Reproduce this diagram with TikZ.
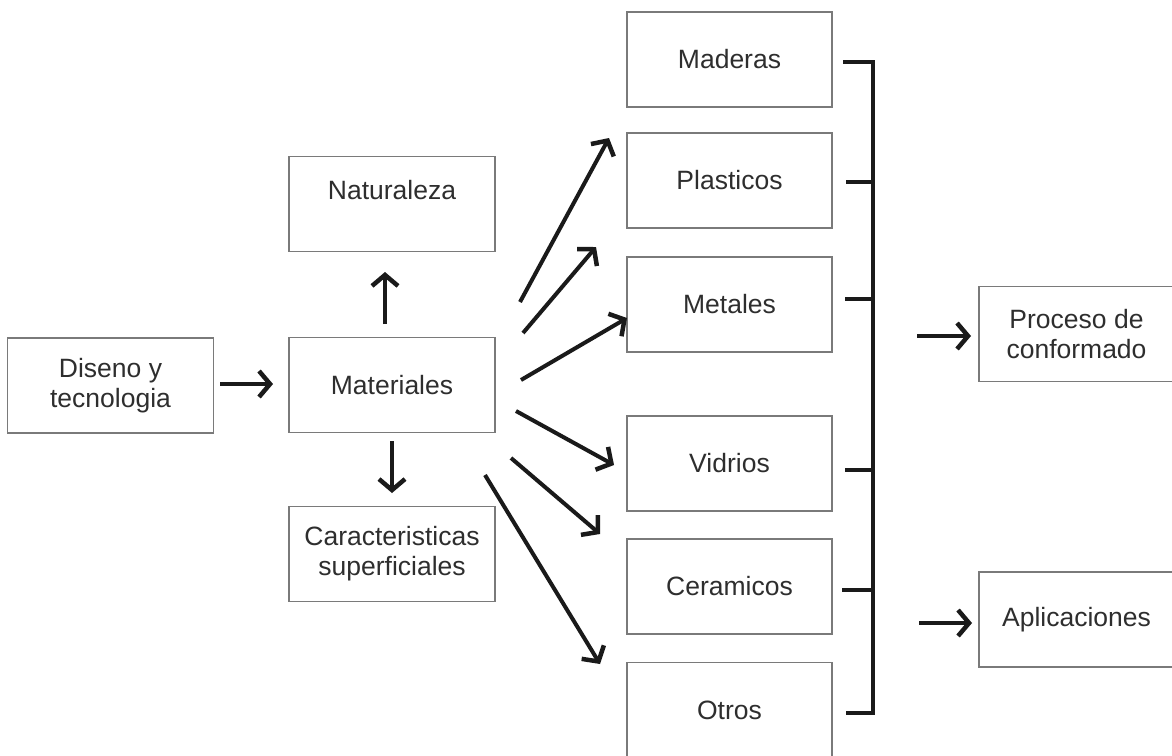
\documentclass[tikz,border=0pt]{standalone}
\usepackage{fontspec}
\setmainfont{Liberation Sans}
\usetikzlibrary{arrows.meta}
\definecolor{boxgray}{HTML}{7A7A7A}
\definecolor{txt}{HTML}{2E2E2E}
\definecolor{ink}{HTML}{1A1A1A}
\begin{document}
\begin{tikzpicture}[x=1pt,y=-1pt,
  box/.style={draw=boxgray,line width=1.5pt,minimum width=206pt,minimum height=95pt,
    inner sep=0pt,align=center,text=txt,font=\fontsize{26.5}{30}\selectfont},
  arr/.style={draw=ink,line width=4pt,-{Straight Barb[length=11pt,width=26pt,line width=4.5pt]}},
  brk/.style={draw=ink,line width=4pt}]
\useasboundingbox (0,0) rectangle (1172,755);
\clip (0,0) rectangle (1172,755);
% boxes
\node[box] (dis) at (110.5,385.5) {Diseno y\\tecnologia};
\node[box] (mat) at (392,385) {Materiales};
\node[box] (nat) at (392,204) {\raisebox{28pt}{Naturaleza}};
\node[box] (car) at (392,554) {Caracteristicas\\superficiales};
\node[box,minimum width=205pt] (mad) at (729.5,59.5) {Maderas};
\node[box,minimum width=205pt] (pla) at (729.5,180.5) {Plasticos};
\node[box,minimum width=205pt] (met) at (729.5,304.5) {Metales};
\node[box,minimum width=205pt] (vid) at (729.5,463.5) {Vidrios};
\node[box,minimum width=205pt] (cer) at (729.5,586.5) {Ceramicos};
\node[box,minimum width=205pt] (otr) at (729.5,710) {Otros};
\node[box,minimum width=195pt] (pro) at (1076.5,334) {Proceso de\\conformado};
\node[box,minimum width=195pt] (apl) at (1076.5,619.5) {Aplicaciones};
% arrow endpoints
\coordinate (a0s) at (220,384); \coordinate (a0e) at (273,384);
\coordinate (nuS) at (385,324); \coordinate (nuE) at (385,272);
\coordinate (ndS) at (392,441); \coordinate (ndE) at (392,493);
\coordinate (d1s) at (520,302); \coordinate (d1e) at (609,138);
\coordinate (d2s) at (523,333); \coordinate (d2e) at (596,247);
\coordinate (d3s) at (521,380); \coordinate (d3e) at (627,318);
\coordinate (d4s) at (516,411); \coordinate (d4e) at (614,465);
\coordinate (d5s) at (511,458); \coordinate (d5e) at (600,534);
\coordinate (d6s) at (485,475); \coordinate (d6e) at (600,664);
\coordinate (p1s) at (917,336); \coordinate (p1e) at (971,336);
\coordinate (p2s) at (919,623); \coordinate (p2e) at (972,623);
\draw[arr] (a0s) -- (a0e);
\draw[arr] (nuS) -- (nuE);
\draw[arr] (ndS) -- (ndE);
\draw[arr] (d1s) -- (d1e);
\draw[arr] (d2s) -- (d2e);
\draw[arr] (d3s) -- (d3e);
\draw[arr] (d4s) -- (d4e);
\draw[arr] (d5s) -- (d5e);
\draw[arr] (d6s) -- (d6e);
\draw[arr] (p1s) -- (p1e);
\draw[arr] (p2s) -- (p2e);
% bracket
\coordinate (bt) at (873,62);
\coordinate (bb) at (873,713);
\draw[brk] (843,62) -- (bt) -- (bb) -- (846,713);
\draw[brk] (846,182) -- (873,182);
\draw[brk] (845,299) -- (873,299);
\draw[brk] (845,470) -- (873,470);
\draw[brk] (842,590) -- (873,590);
\end{tikzpicture}
\end{document}
